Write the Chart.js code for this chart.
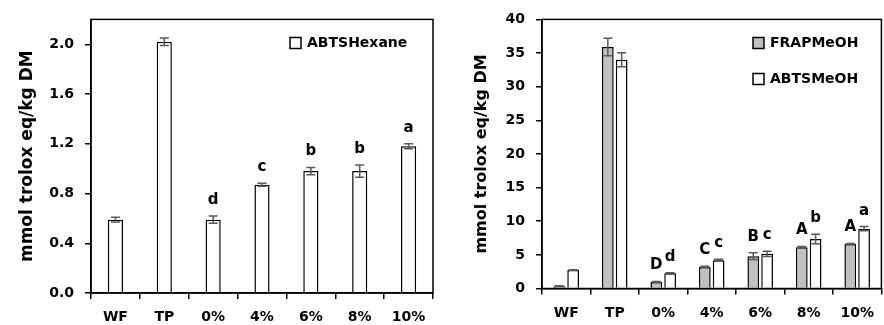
<!DOCTYPE html>
<html>
<head>
<meta charset="utf-8">
<script src="https://cdn.jsdelivr.net/npm/chart.js@4"></script>
<style>
  body { margin: 0; background: #fff; width: 884px; height: 325px; overflow: hidden; position: relative; }
  #hexane { position: absolute; left: 0; top: 0; }
  #meoh { position: absolute; left: 440px; top: 0; }
</style>
</head>
<body>
<canvas id="hexane" width="440" height="325" style="width:440px;height:325px"></canvas>
<canvas id="meoh" width="444" height="325" style="width:444px;height:325px"></canvas>
<script>
var categories = ["WF", "TP", "0%", "4%", "6%", "8%", "10%"];

// left panel: ABTS hexane extract
var abtsHexane = [0.59, 2.02, 0.59, 0.87, 0.98, 0.98, 1.18];
var abtsHexaneErr = [0.02, 0.03, 0.03, 0.012, 0.03, 0.05, 0.02];
var abtsHexaneLetters = ["", "", "d", "c", "b", "b", "a"];

// right panel: methanol extract
var frapMeoh = [0.35, 35.9, 0.95, 3.2, 4.8, 6.15, 6.6];
var frapMeohErr = [0.05, 1.3, 0.1, 0.1, 0.5, 0.1, 0.1];
var frapMeohLetters = ["", "", "D", "C", "B", "A", "A"];
var abtsMeoh = [2.75, 34.0, 2.25, 4.2, 5.15, 7.35, 8.9];
var abtsMeohErr = [0.05, 1.05, 0.1, 0.15, 0.4, 0.7, 0.3];
var abtsMeohLetters = ["", "", "d", "c", "c", "b", "a"];

var yTitle = "mmol trolox eq/kg DM";

Chart.defaults.font.family = "'DejaVu Sans', sans-serif";
Chart.defaults.font.weight = "bold";
Chart.defaults.color = "#000";

// frame, error bars, significance letters and legend
var extras = {
  id: "extras",
  afterDatasetsDraw: function (chart, args, opts) {
    var ctx = chart.ctx;
    var y = chart.scales.y;
    var a = chart.chartArea;
    ctx.save();
    ctx.strokeStyle = "#000";
    ctx.lineWidth = 1.5;
    ctx.strokeRect(a.left, a.top, a.right - a.left, a.bottom - a.top);

    chart.data.datasets.forEach(function (ds, i) {
      chart.getDatasetMeta(i).data.forEach(function (bar, j) {
        var v = ds.data[j], e = ds.errors[j];
        var yTop = y.getPixelForValue(v + e);
        var yBot = y.getPixelForValue(v - e);
        ctx.strokeStyle = "#595959";
        ctx.lineWidth = 1.5;
        ctx.beginPath();
        ctx.moveTo(bar.x, yTop); ctx.lineTo(bar.x, yBot);
        ctx.moveTo(bar.x - 4.5, yTop); ctx.lineTo(bar.x + 4.5, yTop);
        ctx.moveTo(bar.x - 4.5, yBot); ctx.lineTo(bar.x + 4.5, yBot);
        ctx.stroke();
        if (ds.letters[j]) {
          ctx.fillStyle = "#000";
          ctx.font = "bold 15px 'DejaVu Sans'";
          ctx.textAlign = "center";
          ctx.textBaseline = "alphabetic";
          ctx.fillText(ds.letters[j], bar.x, yTop - 12);
        }
      });
    });

    var lg = opts.legend;
    chart.data.datasets.forEach(function (ds, i) {
      var ly = lg.y + i * lg.gap;
      ctx.fillStyle = ds.backgroundColor;
      ctx.fillRect(lg.x, ly - 5.5, 11, 11);
      ctx.strokeStyle = "#000";
      ctx.lineWidth = 1.5;
      ctx.strokeRect(lg.x, ly - 5.5, 11, 11);
      ctx.fillStyle = "#000";
      ctx.font = "bold 14px 'DejaVu Sans'";
      ctx.textAlign = "left";
      ctx.textBaseline = "middle";
      ctx.fillText(ds.label, lg.x + 17, ly);
    });
    ctx.restore();
  }
};

function makeOptions(c) {
  return {
    responsive: false,
    animation: false,
    layout: { padding: { top: c.padTop, right: c.padRight, left: 0, bottom: 0 } },
    plugins: {
      legend: { display: false },
      tooltip: { enabled: false },
      extras: { legend: c.legend }
    },
    scales: {
      x: {
        afterFit: function (s) { s.height = c.xHeight; },
        grid: { offset: true, drawOnChartArea: false, tickLength: 6, color: "#000", lineWidth: 1.5 },
        border: { color: "#000", width: 1.5 },
        ticks: { padding: 10, font: { size: 14, weight: "bold" } }
      },
      y: {
        min: 0,
        max: c.yMax,
        afterFit: function (s) { s.width = c.yWidth; },
        afterBuildTicks: function (s) {
          s.ticks = s.ticks.filter(function (t) {
            var r = t.value / c.step;
            return Math.abs(r - Math.round(r)) < 1e-6;
          });
        },
        grid: { drawOnChartArea: false, tickLength: 6, color: "#000", lineWidth: 1.5 },
        border: { color: "#000", width: 1.5 },
        ticks: {
          stepSize: c.step,
          padding: 11,
          font: { size: 14, weight: "bold" },
          callback: function (v) { return c.decimals ? v.toFixed(c.decimals) : v; }
        },
        title: {
          display: true,
          text: yTitle,
          font: { size: c.titleSize, weight: "bold" },
          padding: { top: c.titlePad, bottom: 0 }
        }
      }
    }
  };
}

new Chart(document.getElementById("hexane"), {
  type: "bar",
  data: {
    labels: categories,
    datasets: [
      {
        label: "ABTSHexane",
        data: abtsHexane,
        errors: abtsHexaneErr,
        letters: abtsHexaneLetters,
        backgroundColor: "#ffffff",
        borderColor: "#000",
        borderWidth: 1.5,
        categoryPercentage: 0.31,
        barPercentage: 1
      }
    ]
  },
  options: makeOptions({
    yMax: 2.2, step: 0.4, decimals: 1, yWidth: 91, xHeight: 32,
    padTop: 15, padRight: 7, titleSize: 17, titlePad: 17,
    legend: { x: 290, y: 43, gap: 36 }
  }),
  plugins: [extras]
});

new Chart(document.getElementById("meoh"), {
  type: "bar",
  data: {
    labels: categories,
    datasets: [
      {
        label: "FRAPMeOH",
        data: frapMeoh,
        errors: frapMeohErr,
        letters: frapMeohLetters,
        backgroundColor: "#c0c0c0",
        borderColor: "#000",
        borderWidth: 1.5,
        categoryPercentage: 0.57,
        barPercentage: 0.85
      },
      {
        label: "ABTSMeOH",
        data: abtsMeoh,
        errors: abtsMeohErr,
        letters: abtsMeohLetters,
        backgroundColor: "#ffffff",
        borderColor: "#000",
        borderWidth: 1.5,
        categoryPercentage: 0.57,
        barPercentage: 0.85
      }
    ]
  },
  options: makeOptions({
    yMax: 40, step: 5, decimals: 0, yWidth: 102, xHeight: 36.5,
    padTop: 13.5, padRight: 1, titleSize: 16, titlePad: 32,
    legend: { x: 313, y: 43, gap: 36 }
  }),
  plugins: [extras]
});
</script>
</body>
</html>
